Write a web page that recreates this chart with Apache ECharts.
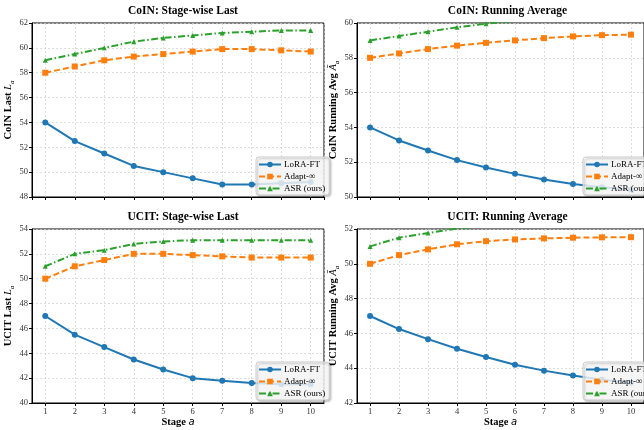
<!DOCTYPE html>
<html>
<head>
<meta charset="utf-8">
<script src="https://cdn.jsdelivr.net/npm/echarts@6/dist/echarts.min.js"></script>
<style>
  html, body { margin: 0; padding: 0; background: #fff; }
  #main { width: 644px; height: 430px; }
</style>
</head>
<body>
<div id="main"></div>
<script>
var stages = [1, 2, 3, 4, 5, 6, 7, 8, 9, 10];
var seriesNames = ['LoRA-FT', 'Adapt-∞', 'ASR (ours)'];

// CoIN: stage-wise last
var coinLastLora  = [54, 52.5, 51.5, 50.5, 50, 49.5, 49, 49, 49.1, 49.2];
var coinLastAdapt = [58, 58.5, 59, 59.3, 59.5, 59.7, 59.9, 59.9, 59.8, 59.7];
var coinLastAsr   = [59, 59.5, 60, 60.5, 60.8, 61, 61.2, 61.3, 61.4, 61.4];

// CoIN: running average
var coinAvgLora  = [54, 53.25, 52.67, 52.12, 51.7, 51.33, 51.0, 50.75, 50.56, 50.42];
var coinAvgAdapt = [58, 58.25, 58.5, 58.7, 58.86, 59.0, 59.13, 59.23, 59.3, 59.33];
var coinAvgAsr   = [59, 59.25, 59.5, 59.75, 59.96, 60.13, 60.29, 60.41, 60.52, 60.61];

// UCIT: stage-wise last
var ucitLastLora  = [47, 45.5, 44.5, 43.5, 42.7, 42.0, 41.8, 41.6, 41.5, 41.5];
var ucitLastAdapt = [50, 51, 51.5, 52, 52, 51.9, 51.8, 51.7, 51.7, 51.7];
var ucitLastAsr   = [51, 52, 52.3, 52.8, 53, 53.1, 53.1, 53.1, 53.1, 53.1];

// UCIT: running average
var ucitAvgLora  = [47, 46.25, 45.67, 45.12, 44.64, 44.2, 43.86, 43.58, 43.34, 43.16];
var ucitAvgAdapt = [50, 50.5, 50.83, 51.12, 51.3, 51.4, 51.46, 51.5, 51.52, 51.53];
var ucitAvgAsr   = [51, 51.5, 51.77, 52.02, 52.22, 52.36, 52.46, 52.53, 52.59, 52.64];

var titles = ['CoIN: Stage-wise Last', 'CoIN: Running Average', 'UCIT: Stage-wise Last', 'UCIT: Running Average'];
var yNames = [
    ['CoIN Last ', 'L'], ['CoIN Running Avg ', 'Ā'],
    ['UCIT Last ', 'L'], ['UCIT Running Avg ', 'Ā']
];
var yMin = [48, 50, 40, 42];
var yMax = [62, 60, 54, 52];
var panelData = [
    [coinLastLora, coinLastAdapt, coinLastAsr],
    [coinAvgLora, coinAvgAdapt, coinAvgAsr],
    [ucitLastLora, ucitLastAdapt, ucitLastAsr],
    [ucitAvgLora, ucitAvgAdapt, ucitAvgAsr]
];

var font = 'Liberation Serif';
var colors = ['#1f77b4', '#ff7f0e', '#2ca02c'];
var symbols = ['circle', 'rect', 'triangle'];
var symbolSizes = [6, 6, 5];
var dashes = ['solid', [6, 3], [7, 2.5, 1.5, 2.5]];

// grid boxes in pixels
var boxes = [
    {left: 32, top: 23, width: 292, height: 174},
    {left: 357, top: 23, width: 291, height: 174},
    {left: 32, top: 229, width: 292, height: 174},
    {left: 357, top: 229, width: 291, height: 174}
];
var legendPos = [
    {left: 256, top: 157},
    {left: 583, top: 157},
    {left: 256, top: 362},
    {left: 583, top: 362}
];

var option = {
    backgroundColor: '#fff',
    animation: false,
    title: [],
    grid: [],
    xAxis: [],
    yAxis: [],
    legend: [],
    series: []
};

for (var p = 0; p < 4; p++) {
    var b = boxes[p];
    option.title.push({
        text: titles[p],
        left: b.left + b.width / 2,
        top: p < 2 ? 0 : 206,
        textAlign: 'center',
        textStyle: {fontFamily: font, fontSize: 11.5, fontWeight: 'bold', color: '#000'}
    });
    option.grid.push({
        left: b.left, top: b.top, width: b.width, height: b.height,
        show: true, borderColor: '#000', borderWidth: 1, backgroundColor: 'transparent'
    });
    option.xAxis.push({
        type: 'value',
        gridIndex: p,
        min: 0.55,
        max: 10.45,
        splitNumber: 10,
        minInterval: 1,
        maxInterval: 1,
        name: p >= 2 ? '{b|Stage }{i|a}' : '',
        nameLocation: 'middle',
        nameGap: 14,
        nameTextStyle: {
            rich: {
                b: {fontFamily: font, fontSize: 10.5, fontWeight: 'bold', color: '#000'},
                i: {fontFamily: 'DejaVu Sans', fontSize: 10, fontStyle: 'italic', color: '#000'}
            }
        },
        axisLine: {show: true, lineStyle: {color: '#000', width: 1}},
        axisTick: {show: true, length: 3, lineStyle: {color: '#000'}},
        axisLabel: {
            show: p >= 2, fontFamily: font, fontSize: 8.5, color: '#333', margin: 4,
            showMinLabel: false, showMaxLabel: false
        },
        splitLine: {show: true, lineStyle: {color: '#d0d0d0', type: [2, 2], width: 0.7}}
    });
    option.yAxis.push({
        type: 'value',
        gridIndex: p,
        min: yMin[p],
        max: yMax[p],
        interval: 2,
        name: '{b|' + yNames[p][0] + '}{i|' + yNames[p][1] + '}{s|a}',
        nameLocation: 'middle',
        nameGap: 16,
        nameTextStyle: {
            rich: {
                b: {fontFamily: font, fontSize: 10.5, fontWeight: 'bold', color: '#000', lineHeight: 14, verticalAlign: 'middle'},
                i: {fontFamily: font, fontSize: 10.5, fontStyle: 'italic', color: '#000', lineHeight: 14, verticalAlign: 'middle'},
                s: {fontFamily: font, fontSize: 7, fontStyle: 'italic', color: '#000', lineHeight: 14, verticalAlign: 'bottom'}
            }
        },
        axisLine: {show: true, lineStyle: {color: '#000', width: 1}},
        axisTick: {show: true, length: 3, lineStyle: {color: '#000'}},
        axisLabel: {fontFamily: font, fontSize: 8.5, color: '#333', margin: 4},
        splitLine: {show: true, lineStyle: {color: '#d0d0d0', type: [2, 2], width: 0.7}}
    });
    option.legend.push({
        data: seriesNames,
        left: legendPos[p].left,
        top: legendPos[p].top,
        orient: 'vertical',
        itemWidth: 22,
        itemHeight: 7,
        itemGap: 3,
        padding: [3, 4, 2, 2],
        backgroundColor: 'rgba(255,255,255,0.8)',
        borderColor: '#cccccc',
        borderWidth: 1,
        borderRadius: 3,
        shadowColor: 'rgba(0,0,0,0.25)',
        shadowBlur: 2,
        shadowOffsetX: 1.5,
        shadowOffsetY: 1.5,
        textStyle: {fontFamily: font, fontSize: 9, lineHeight: 9, color: '#000', padding: [0, 0, 0, -2]}
    });
    for (var s = 0; s < 3; s++) {
        var vals = panelData[p][s];
        option.series.push({
            name: seriesNames[s],
            type: 'line',
            xAxisIndex: p,
            yAxisIndex: p,
            clip: true,
            data: stages.map(function (st, i) { return [st, vals[i]]; }),
            symbol: symbols[s],
            symbolSize: symbolSizes[s],
            showAllSymbol: true,
            itemStyle: {color: colors[s]},
            lineStyle: {color: colors[s], width: 2, type: dashes[s]},
            z: 3 + s
        });
    }
}

var myChart = echarts.init(document.getElementById('main'));
myChart.setOption(option);
</script>
</body>
</html>
